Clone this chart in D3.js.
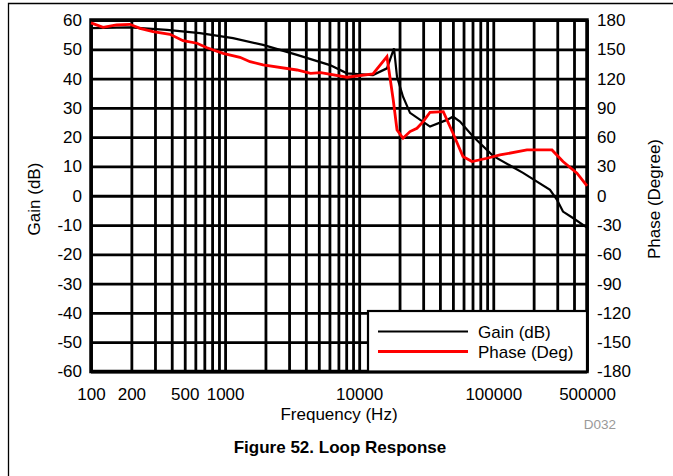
<!DOCTYPE html>
<html><head><meta charset="utf-8">
<script src="https://cdn.jsdelivr.net/npm/d3@7"></script>
<style>body{margin:0;background:#fff}svg{display:block}text{font-family:"Liberation Sans",Arial,sans-serif}</style>
</head><body><svg id="c" width="673" height="476"></svg>
<script>
const gainFreq = [100,195,369,650,1146,1918,3437,6057,8110,12670,16110,18180,19150,21230,23940,33750,45150,50070,56490,70630,99600,166700,265000,298700,331000,393000,500000];
const gainDb   = [57.2,57.5,56.6,55.5,53.8,51.5,48.1,44.6,41.8,41.2,43.5,50.3,40.6,33.8,28.3,23.6,25.9,27.0,25.3,20.2,13.6,7.8,2.0,-1.4,-5.4,-7.6,-10.9];
const phaseFreq = [100,123,155,195,232,290,388,486,617,733,965,1290,1535,1918,3437,4340,5170,8110,12670,16110,17950,19150,21230,23940,26970,30000,33750,42380,50070,59400,69340,89700,112200,178300,274000,331000,421000,500000];
const phaseDeg  = [177,172.5,174.9,175.6,171.5,168,165.4,158.8,156.2,151.6,145.9,141.8,137.3,134,128.8,125.4,126,121.4,124.7,142.4,98,67.4,58.9,65.7,69.1,75.9,85.5,86.1,64,40.1,35,38.4,41.8,46.9,46.9,35,23.1,10.1];
const gainTicks = [60,50,40,30,20,10,0,-10,-20,-30,-40,-50,-60];
const phaseTicks = [180,150,120,90,60,30,0,-30,-60,-90,-120,-150,-180];
const freqTicks = [100,200,500,1000,10000,100000,500000];
const gridFreqs = [100,200,300,400,500,600,700,800,900,1000,2000,3000,4000,5000,6000,7000,8000,9000,10000,20000,30000,40000,50000,60000,70000,80000,90000,100000,200000,300000,400000,500000];
const seriesNames = ["Gain (dB)","Phase (Deg)"];

const svg = d3.select("#c");
const L=91, R=587, T=20, B=371.5;
const x = d3.scaleLog().domain([100,500000]).range([L,R]);
const yG = d3.scaleLinear().domain([-60,60]).range([B,T]);
const yP = d3.scaleLinear().domain([-180,180]).range([B,T]);
const fmt = d => String(d);

svg.append("path").attr("d",`M8.5,476 V3.5 H673`).attr("fill","none").attr("stroke","#000").attr("stroke-width",1.3);

svg.append("g").attr("transform",`translate(0,${B})`)
  .call(d3.axisBottom(x).tickValues(gridFreqs).tickSize(-(B-T)).tickFormat(""))
  .call(g=>g.select(".domain").remove())
  .call(g=>g.selectAll("line").attr("stroke","#000").attr("stroke-width",2.8));
svg.append("g").attr("transform",`translate(${L},0)`)
  .call(d3.axisLeft(yG).tickValues(gainTicks).tickSize(-(R-L)).tickFormat(""))
  .call(g=>g.select(".domain").remove())
  .call(g=>g.selectAll("line").attr("stroke","#000").attr("stroke-width",2.8));

svg.append("rect").attr("x",L).attr("y",T).attr("width",R-L).attr("height",B-T)
  .attr("fill","none").attr("stroke","#000").attr("stroke-width",3.5);

const lab = g=>g.select(".domain").remove();
const style = g=>g.selectAll("text").attr("font-size",17).attr("fill","#000").attr("font-family","Liberation Sans");
svg.append("g").attr("transform",`translate(${L},0)`)
  .call(d3.axisLeft(yG).tickValues(gainTicks).tickSize(0).tickPadding(9).tickFormat(fmt))
  .call(lab).call(style);
svg.append("g").attr("transform",`translate(${R},0)`)
  .call(d3.axisRight(yP).tickValues(phaseTicks).tickSize(0).tickPadding(10).tickFormat(fmt))
  .call(lab).call(style);
svg.append("g").attr("transform",`translate(0,${B})`)
  .call(d3.axisBottom(x).tickValues(freqTicks).tickSize(0).tickPadding(16).tickFormat(fmt))
  .call(lab).call(style);

const gainData = gainFreq.map((f,i)=>[f,gainDb[i]]);
const phaseData = phaseFreq.map((f,i)=>[f,phaseDeg[i]]);
svg.append("path").datum(gainData).attr("fill","none").attr("stroke","#000").attr("stroke-width",2.2)
  .attr("d",d3.line().x(d=>x(d[0])).y(d=>yG(d[1])));
svg.append("path").datum(phaseData).attr("fill","none").attr("stroke","#ff0000").attr("stroke-width",2.8)
  .attr("d",d3.line().x(d=>x(d[0])).y(d=>yP(d[1])));

svg.append("rect").attr("x",368).attr("y",311).attr("width",R-368).attr("height",B-311)
  .attr("fill","#fff").attr("stroke","#000").attr("stroke-width",2.2);
const legColors=["#000","#ff0000"];
seriesNames.forEach((n,i)=>{
  const yy = 331.5 + i*20;
  svg.append("line").attr("x1",378).attr("x2",468).attr("y1",yy).attr("y2",yy).attr("stroke",legColors[i]).attr("stroke-width",i?2.8:2.2);
  svg.append("text").attr("x",478).attr("y",yy+6).attr("font-size",17).text(n);
});

svg.append("text").attr("transform","translate(39.5,199) rotate(-90)").attr("text-anchor","middle").attr("font-size",17).text("Gain (dB)");
svg.append("text").attr("transform","translate(660,199) rotate(-90)").attr("text-anchor","middle").attr("font-size",17).text("Phase (Degree)");
svg.append("text").attr("x",339).attr("y",420).attr("text-anchor","middle").attr("font-size",17).text("Frequency (Hz)");
svg.append("text").attr("x",600).attr("y",429).attr("text-anchor","middle").attr("font-size",13.5).attr("fill","#999").text("D032");
svg.append("text").attr("x",340).attr("y",453).attr("text-anchor","middle").attr("font-size",17).attr("font-weight","bold").text("Figure 52. Loop Response");
</script></body></html>
